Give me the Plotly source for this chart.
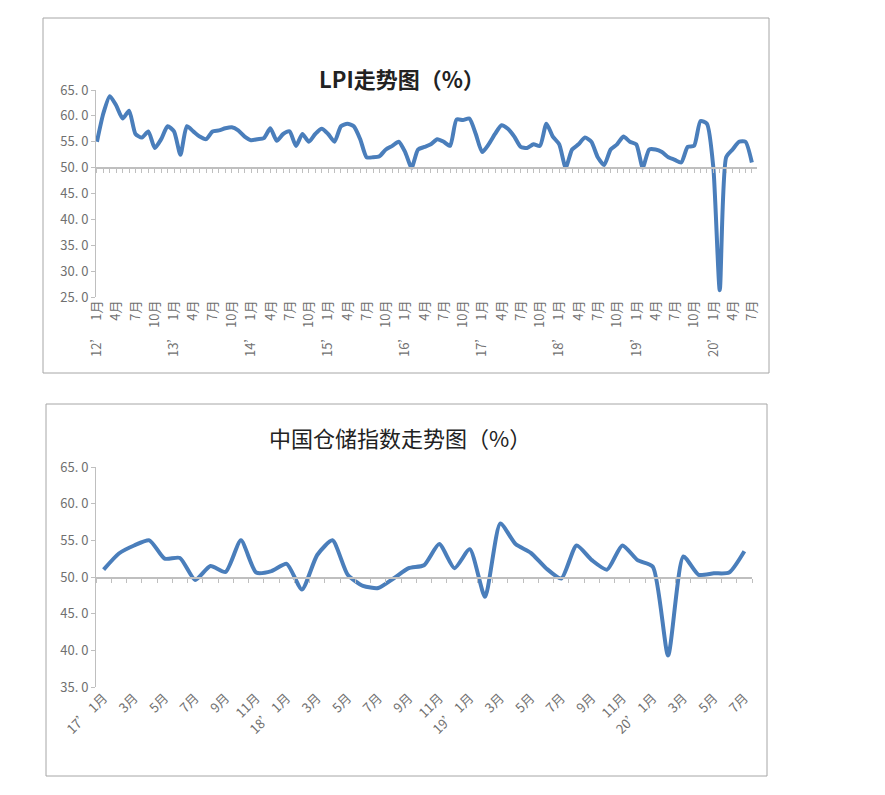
import plotly.graph_objects as go

lpi = [55.0,60.5,63.8,62,59.5,61,56.5,55.8,57,53.8,55.5,58,57,52.5,58,57,56,55.5,57,57.2,
       57.6,57.8,57.2,56,55.3,55.5,55.7,57.6,55.2,56.5,57,54.2,56.5,55,56.5,57.5,56.5,55,58,58.5,
       58,55.5,52,52,52.2,53.5,54.2,55,53,50,53.5,54,54.5,55.5,55,54.2,59.3,59.2,59.5,56.5,
       53,54.5,56.5,58.2,57.5,56,54,53.8,54.5,54.2,58.5,56,54.5,50,53.5,54.5,55.8,55,52,50.5,
       53.5,54.5,56,55,54.5,50,53.5,53.5,53,52,51.5,51,54,54.2,59,58.5,50,26.3,52,53.5,
       55,55,51]
storage = [51.0,53.2,54.3,55.0,52.5,52.6,49.6,51.5,50.7,55.0,50.6,50.8,51.8,48.3,53.0,55.0,
           50.3,48.8,48.5,49.8,51.2,51.6,54.5,51.2,53.8,47.3,57.3,54.5,53.3,51.2,49.8,54.3,
           52.3,51.0,54.3,52.3,51.4,39.3,52.8,50.3,50.5,50.6,53.5]

top_years = ["12’","13’","14’","15’","16’","17’","18’","19’","20’"]
top_months = ["1月","4月","7月","10月"]
top_ticks = list(range(0, len(lpi), 3))
top_text = []
for i in top_ticks:
    m = top_months[(i % 12)//3]
    top_text.append(f"{top_years[i//12]}   {m}" if i % 12 == 0 else m)

bot_years = ["17’","18’","19’","20’"]
bot_ticks = list(range(0, len(storage), 2))
bot_text = []
for i in bot_ticks:
    m = f"{i%12+1}月"
    bot_text.append(f"{bot_years[i//12]} {m}" if i % 12 == 0 else m)

top_y = [25,30,35,40,45,50,55,60,65]
bot_y = [35,40,45,50,55,60,65]

OFF = 8
W, H = 885 - 2*OFF, 795 - 2*OFF
def px(x): return (x-OFF)/W
def py(y): return 1 - (y-OFF)/H

blue = "#4a7ebb"
gray = "#bfbfbf"
tf = dict(family="Noto Sans CJK SC", size=13, color="#707070")

fig = go.Figure()
fig.add_trace(go.Scatter(x=list(range(len(lpi))), y=lpi, mode="lines", xaxis="x3", yaxis="y",
                         line=dict(color=blue, width=4, shape="spline", smoothing=0.6), showlegend=False))
fig.add_trace(go.Scatter(x=[], y=[], xaxis="x", yaxis="y", showlegend=False))
fig.add_trace(go.Scatter(x=list(range(len(storage))), y=storage, mode="lines", xaxis="x4", yaxis="y2",
                         line=dict(color=blue, width=4, shape="spline", smoothing=0.6), showlegend=False))
fig.add_trace(go.Scatter(x=[], y=[], xaxis="x2", yaxis="y2", showlegend=False))

top_xr = [-0.15, 102.8]
bot_xr = [-0.5, 42.5]
fig.update_layout(
    width=W, height=H, margin=dict(l=0, r=0, t=0, b=0, autoexpand=False),
    paper_bgcolor="white", plot_bgcolor="white",
    xaxis=dict(domain=[px(96), px(757)], anchor="y", range=top_xr, tickmode="array",
               tickvals=top_ticks, ticktext=top_text, tickangle=-90, tickfont=tf, automargin=False,
               showgrid=False, zeroline=False, showline=False, ticks=""),
    yaxis=dict(domain=[py(297), py(90)], range=[25, 65], tickmode="array", tickvals=top_y,
               ticktext=[f"{v}. 0" for v in top_y], tickfont=tf, showgrid=False, zeroline=False,
               automargin=False,
               showline=True, linecolor=gray, ticks="outside", ticklen=4, tickcolor=gray),
    xaxis3=dict(overlaying="x", anchor="free", position=py(168), range=top_xr, automargin=False,
                showline=True, linecolor=gray, linewidth=2, ticks="outside", ticklen=4, tickcolor=gray,
                dtick=1, tick0=0, showticklabels=False, showgrid=False, zeroline=False),
    xaxis2=dict(domain=[px(96), px(752)], anchor="y2", range=bot_xr, tickmode="array",
                tickvals=bot_ticks, ticktext=bot_text, tickangle=-45, tickfont=tf, automargin=False,
                showgrid=False, zeroline=False, showline=False, ticks=""),
    yaxis2=dict(domain=[py(687), py(467)], range=[35, 65], tickmode="array", tickvals=bot_y,
                ticktext=[f"{v}. 0" for v in bot_y], tickfont=tf, showgrid=False, zeroline=False,
                automargin=False,
                showline=True, linecolor=gray, ticks="outside", ticklen=4, tickcolor=gray),
    xaxis4=dict(overlaying="x2", anchor="free", position=py(578), range=bot_xr, automargin=False,
                showline=True, linecolor=gray, linewidth=2, ticks="outside", ticklen=4, tickcolor=gray,
                dtick=1, tick0=-0.5, showticklabels=False, showgrid=False, zeroline=False),
    shapes=[
        dict(type="rect", xref="paper", yref="paper", x0=px(43), x1=px(769), y0=py(373), y1=py(18),
             line=dict(color="#a6a6a6", width=1)),
        dict(type="rect", xref="paper", yref="paper", x0=px(46), x1=px(767), y0=py(776), y1=py(404),
             line=dict(color="#a6a6a6", width=1)),
    ],
    annotations=[
        dict(text="<b>LPI走势图（%）</b>", x=px(402), y=py(60), xref="paper", yref="paper",
             showarrow=False, font=dict(family="Noto Sans CJK SC", size=22, color="#222222")),
        dict(text="中国仓储指数走势图（%）", x=px(400), y=py(437), xref="paper", yref="paper",
             showarrow=False, font=dict(family="Noto Sans CJK SC", size=22, color="#222222")),
    ],
)
fig.write_html("out.html")
